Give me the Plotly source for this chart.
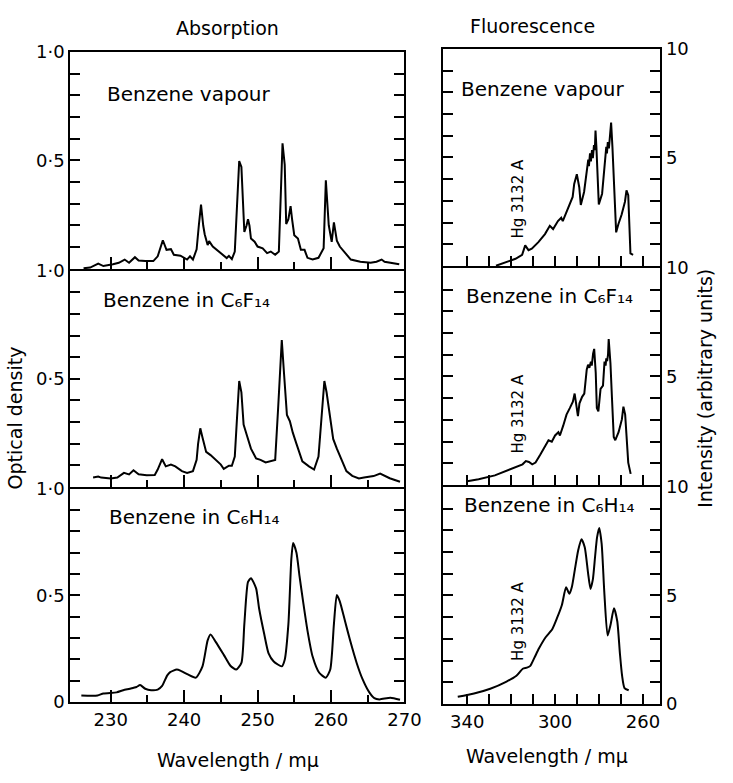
import plotly.graph_objects as go

W, H = 733, 783   # reference picture size, used to convert reference pixels to paper fractions

# ---------------- data ----------------
# Absorption, benzene vapour
abs_vap_wl = [226.3, 227.2, 228.3, 229.0, 230.3, 231.1, 231.9, 232.5, 233.3, 233.8,
              234.7, 235.8, 236.4, 237.1, 237.6, 238.2, 238.6, 239.5, 240.4, 240.8,
              241.2, 241.7, 242.0, 242.3, 242.6, 242.8, 243.2, 243.4, 243.9, 244.7,
              245.4, 245.8, 246.1, 246.5, 246.9, 247.2, 247.5, 247.8, 248.0, 248.2,
              248.5, 248.7, 248.9, 249.1, 249.6, 250.0, 250.7, 251.3, 251.8, 252.4,
              252.9, 253.2, 253.4, 253.7, 253.9, 254.2, 254.5, 254.7, 255.0, 255.5,
              255.9, 256.4, 256.8, 257.5, 258.3, 259.0, 259.3, 259.7, 260.1, 260.4,
              260.8, 261.2, 261.8, 262.7, 264.0, 265.4, 266.2, 266.9, 267.3, 268.4, 269.3]
abs_vap_od = [0.003, 0.006, 0.024, 0.013, 0.021, 0.028, 0.043, 0.028, 0.054, 0.039,
              0.036, 0.036, 0.058, 0.132, 0.088, 0.091, 0.065, 0.061, 0.043, 0.058,
              0.043, 0.090, 0.200, 0.296, 0.200, 0.160, 0.110, 0.128, 0.103, 0.080,
              0.063, 0.050, 0.060, 0.045, 0.080, 0.300, 0.497, 0.470, 0.300, 0.170,
              0.200, 0.229, 0.199, 0.140, 0.125, 0.103, 0.095, 0.073, 0.080, 0.065,
              0.080, 0.348, 0.579, 0.480, 0.207, 0.229, 0.289, 0.229, 0.155, 0.140,
              0.088, 0.088, 0.051, 0.043, 0.051, 0.095, 0.408, 0.200, 0.125, 0.214,
              0.130, 0.103, 0.080, 0.043, 0.033, 0.028, 0.033, 0.043, 0.033, 0.028, 0.021]

# Absorption, benzene in C6F14
abs_c6f14_wl = [227.6, 228.3, 228.7, 230.0, 230.9, 231.8, 232.5, 233.1, 233.8, 234.9,
                236.0, 236.4, 237.0, 237.5, 238.2, 238.8, 239.7, 240.4, 241.2, 241.7,
                241.9, 242.2, 242.5, 243.0, 243.6, 244.3, 245.0, 245.4, 246.1, 246.5,
                246.9, 247.2, 247.5, 247.8, 248.1, 248.5, 249.1, 249.8, 250.4, 251.1,
                251.8, 252.4, 252.8, 253.1, 253.3, 253.6, 254.0, 254.4, 254.8, 255.3,
                255.7, 256.1, 257.0, 257.7, 258.3, 258.8, 259.1, 259.4, 259.9, 260.3,
                260.8, 261.4, 262.1, 262.9, 263.8, 264.5, 265.8, 266.7, 268.0, 269.4]
abs_c6f14_od = [0.043, 0.048, 0.043, 0.039, 0.043, 0.065, 0.058, 0.077, 0.058, 0.054,
                0.055, 0.080, 0.128, 0.095, 0.103, 0.095, 0.073, 0.065, 0.073, 0.125,
                0.199, 0.271, 0.229, 0.162, 0.147, 0.125, 0.103, 0.083, 0.098, 0.098,
                0.140, 0.318, 0.490, 0.438, 0.289, 0.244, 0.177, 0.132, 0.125, 0.113,
                0.118, 0.125, 0.363, 0.586, 0.680, 0.527, 0.333, 0.304, 0.251, 0.199,
                0.155, 0.118, 0.095, 0.080, 0.140, 0.363, 0.490, 0.438, 0.318, 0.222,
                0.177, 0.125, 0.073, 0.051, 0.039, 0.043, 0.050, 0.062, 0.040, 0.024]

# Absorption, benzene in C6H14
abs_c6h14_wl = [226.0, 228.2, 229.0, 230.8, 231.7, 232.6, 233.5, 234.0, 234.7, 235.5,
                236.4, 237.0, 237.7, 238.1, 239.0, 239.6, 240.5, 241.6, 242.5, 243.2,
                243.6, 244.3, 245.4, 246.3, 247.1, 247.8, 248.2, 248.7, 249.1, 249.8,
                250.2, 250.9, 251.5, 252.2, 253.3, 253.7, 254.2, 254.6, 254.85, 255.3,
                255.7, 256.2, 256.8, 257.5, 258.4, 259.3, 259.9, 260.4, 260.8, 261.2,
                261.9, 262.6, 263.5, 264.3, 265.2, 265.9, 266.6, 268.1, 269.4]
abs_c6h14_od = [0.030, 0.030, 0.040, 0.045, 0.055, 0.062, 0.070, 0.079, 0.062, 0.055,
                0.058, 0.075, 0.125, 0.140, 0.152, 0.145, 0.129, 0.114, 0.167, 0.289,
                0.317, 0.282, 0.221, 0.170, 0.152, 0.183, 0.365, 0.563, 0.581, 0.533,
                0.441, 0.320, 0.228, 0.190, 0.167, 0.198, 0.365, 0.670, 0.746, 0.700,
                0.594, 0.472, 0.335, 0.213, 0.137, 0.114, 0.152, 0.365, 0.502, 0.472,
                0.381, 0.289, 0.183, 0.107, 0.046, 0.018, 0.012, 0.020, 0.010]

# Fluorescence, benzene vapour
fl_vap_wl = [326.9, 322.5, 318.0, 315.0, 313.6, 312.1, 310.6, 307.6, 304.6, 302.4,
             300.9, 298.7, 297.2, 296.5, 295.0, 293.5, 292.0, 291.3, 290.1, 289.0,
             288.3, 286.8, 285.3, 284.9, 284.6, 284.1, 283.7, 283.2, 282.8, 282.3,
             281.9, 281.6, 281.2, 280.6, 280.1, 278.6, 277.9, 277.1, 276.7, 276.4,
             276.0, 275.5, 274.9, 274.5, 273.9, 273.4, 273.0, 272.2, 271.2, 269.7,
             268.2, 267.5, 266.7, 266.3, 265.7, 264.5]
fl_vap_int = [0.01, 0.16, 0.33, 0.51, 0.95, 0.73, 0.80, 1.10, 1.47, 1.85,
              1.70, 2.07, 2.22, 2.07, 2.44, 2.81, 3.18, 3.78, 4.23, 3.63,
              2.81, 3.41, 4.45, 4.90, 4.60, 5.19, 4.82, 5.34, 4.97, 5.57,
              5.34, 6.24, 5.49, 3.41, 2.84, 3.33, 4.15, 5.04, 5.49, 5.19,
              5.71, 5.42, 6.09, 6.61, 5.49, 4.30, 2.96, 1.55, 1.92, 2.37,
              2.96, 3.48, 3.26, 1.92, 0.58, 0.51]

# Fluorescence, benzene in C6F14
fl_c6f14_wl = [340.0, 334.8, 327.4, 320.0, 314.8, 313.3, 311.9, 310.4, 308.9, 306.7,
               304.4, 303.0, 301.5, 300.0, 298.5, 297.8, 296.3, 294.8, 293.3, 291.9,
               291.1, 290.4, 289.6, 288.9, 287.7, 286.7, 285.6, 285.0, 284.4, 283.7,
               283.3, 282.7, 282.2, 281.5, 281.0, 280.3, 279.3, 278.2, 277.5, 277.0,
               276.7, 276.3, 275.9, 275.6, 274.8, 274.1, 273.3, 272.6, 271.1, 269.6,
               268.9, 268.1, 267.4, 266.7, 265.6]
fl_c6f14_int = [0.17, 0.26, 0.44, 0.73, 0.95, 1.10, 1.06, 0.95, 1.03, 1.40,
                1.84, 2.06, 1.99, 2.28, 2.43, 2.28, 2.73, 3.24, 3.54, 3.84,
                4.21, 3.76, 3.17, 3.76, 4.06, 4.21, 5.31, 5.54, 5.40, 5.68,
                5.50, 6.05, 6.27, 5.17, 3.54, 3.39, 4.43, 4.58, 5.68, 5.50,
                5.83, 5.70, 6.00, 6.72, 5.61, 3.98, 2.21, 2.06, 2.43, 3.02,
                3.61, 3.24, 2.06, 1.03, 0.51]

# Fluorescence, benzene in C6H14
fl_c6h14_wl = [344.3, 336.9, 329.5, 322.1, 317.6, 314.7, 312.9, 311.4, 309.5, 307.3,
               304.3, 301.3, 299.1, 296.9, 295.0, 293.5, 292.4, 291.0, 289.5, 288.0,
               286.5, 285.0, 283.9, 282.8, 281.8, 280.9, 279.9, 278.8, 277.6, 276.1,
               274.7, 273.2, 271.7, 270.5, 269.5, 268.4, 266.5]
fl_c6h14_int = [0.33, 0.48, 0.70, 1.03, 1.30, 1.62, 1.67, 1.74, 2.11, 2.56,
                3.07, 3.44, 3.96, 4.56, 5.37, 5.07, 5.37, 6.19, 7.07, 7.59,
                7.22, 6.04, 5.30, 5.74, 6.78, 7.67, 8.11, 7.37, 5.15, 3.15,
                3.67, 4.41, 3.81, 2.33, 1.30, 0.73, 0.63]

panel_labels = ["Benzene vapour", "Benzene vapour",
                "Benzene in C₆F₁₄", "Benzene in C₆F₁₄",
                "Benzene in C₆H₁₄", "Benzene in C₆H₁₄"]
abs_major_ticks = [230, 240, 250, 260, 270]
abs_minor_ticks = [235, 245, 255, 265]
fl_major_ticks = [340, 300, 260]
fl_minor_ticks = [330, 320, 310, 290, 280, 270]
hg_label = "Hg 3132 A"

# ---------------- figure ----------------
FONT = "DejaVu Sans"
fig = go.Figure()

series = [
    (abs_vap_wl, abs_vap_od, "linear"),
    (fl_vap_wl, fl_vap_int, "linear"),
    (abs_c6f14_wl, abs_c6f14_od, "linear"),
    (fl_c6f14_wl, fl_c6f14_int, "linear"),
    (abs_c6h14_wl, abs_c6h14_od, "spline"),
    (fl_c6h14_wl, fl_c6h14_int, "spline"),
]
for i, (xs, ys, shape) in enumerate(series, start=1):
    fig.add_trace(go.Scatter(
        x=xs, y=ys, mode="lines",
        line=dict(color="black", width=2, shape=shape, smoothing=0.6),
        xaxis="x" if i == 1 else f"x{i}", yaxis="y" if i == 1 else f"y{i}",
        showlegend=False, hoverinfo="skip"))


def px_x(x):
    return x / W


def px_y(y):
    return 1 - y / H


left_dom = [px_x(72), px_x(414)]
right_dom = [px_x(454), px_x(676)]
left_rows = [(42, 265), (267, 489), (491, 710)]
right_rows = [(39, 262), (264, 487), (489, 712)]

tickfont = dict(family=FONT, size=18, color="black")
layout = {}
for i in range(1, 7):
    col = (i - 1) % 2        # 0 left, 1 right
    row = (i - 1) // 2
    bottom = row == 2
    xname = "xaxis" if i == 1 else f"xaxis{i}"
    yname = "yaxis" if i == 1 else f"yaxis{i}"
    anchor_y = "y" if i == 1 else f"y{i}"
    anchor_x = "x" if i == 1 else f"x{i}"
    if col == 0:
        r = left_rows[row]
        xa = dict(domain=left_dom, range=[224.5, 270], tickmode="array",
                  tickvals=abs_major_ticks, ticktext=[str(v) for v in abs_major_ticks],
                  ticklen=12,
                  minor=dict(tickmode="array", tickvals=abs_minor_ticks, ticklen=7,
                             tickwidth=2, tickcolor="black", ticks="inside"))
        yv = [0.5, 1.0] if not bottom else [0, 0.5, 1.0]
        yt = ["0·5", "1·0"] if not bottom else ["0", "0·5", "1·0"]
        ya = dict(domain=[px_y(r[1]), px_y(r[0])], range=[0, 1.0], tickmode="array",
                  tickvals=yv, ticktext=yt, side="left",
                  minor=dict(tickmode="array",
                             tickvals=[0.1, 0.2, 0.3, 0.4, 0.6, 0.7, 0.8, 0.9],
                             ticklen=10, tickwidth=2, tickcolor="black", ticks="inside"))
    else:
        r = right_rows[row]
        xa = dict(domain=right_dom, range=[350.8, 252.1], tickmode="array",
                  tickvals=fl_major_ticks, ticktext=[str(v) for v in fl_major_ticks],
                  ticklen=10,
                  minor=dict(tickmode="array", tickvals=fl_minor_ticks, ticklen=10,
                             tickwidth=2, tickcolor="black", ticks="inside"))
        yv = [5, 10] if not bottom else [0, 5, 10]
        yt = ["5", "10"] if not bottom else ["0", "5", "10"]
        ya = dict(domain=[px_y(r[1]), px_y(r[0])], range=[0, 10], tickmode="array",
                  tickvals=yv, ticktext=yt, side="right",
                  minor=dict(tickmode="array", tickvals=[1, 2, 3, 4, 6, 7, 8, 9],
                             ticklen=10, tickwidth=2, tickcolor="black", ticks="inside"))
    xa.update(anchor=anchor_y, showline=True, linewidth=2, linecolor="black",
              mirror=True, ticks="inside", tickwidth=2, tickcolor="black",
              showticklabels=bottom, tickfont=tickfont, showgrid=False,
              zeroline=False, fixedrange=True)
    ya.update(anchor=anchor_x, showline=True, linewidth=2, linecolor="black",
              mirror="ticks", ticks="inside", ticklen=10, tickwidth=2,
              tickcolor="black", tickfont=tickfont, showgrid=False,
              zeroline=False, fixedrange=True)
    layout[xname] = xa
    layout[yname] = ya

annotations = []


def ann(text, x, y, size=20, angle=0, xanchor="center", yanchor="middle"):
    annotations.append(dict(text=text, x=px_x(x), y=px_y(y), xref="paper", yref="paper",
                            showarrow=False, textangle=angle, xanchor=xanchor,
                            yanchor=yanchor,
                            font=dict(family=FONT, size=size, color="black")))


ann("Absorption", 233, 17, size=19)
ann("Fluorescence", 545, 15, size=19)
label_pos = [(107, 85), (470, 80), (103, 297), (475, 293), (110, 520), (473, 508)]
for txt, (lx, ly) in zip(panel_labels, label_pos):
    ann(txt, lx, ly, size=20, xanchor="left")
for hy in (193, 414, 627):
    ann(hg_label, 530, hy, size=15, angle=-90)
ann("Optical density", 15, 418, size=19, angle=-90)
ann("Intensity (arbitrary units)", 721, 388, size=19, angle=-90)
ann("Wavelength / mμ", 244, 770, size=19)
ann("Wavelength / mμ", 560, 766, size=19)

# the figure fills the whole browser viewport; everything is placed in paper fractions
fig.update_layout(autosize=True, margin=dict(l=0, r=0, t=0, b=0),
                  paper_bgcolor="white", plot_bgcolor="white",
                  annotations=annotations, **layout)

pin_js = ("document.documentElement.style.margin='0';"
          "document.body.style.margin='0';document.body.style.overflow='hidden';"
          "var gd=document.getElementById('{plot_id}');"
          "gd.style.position='absolute';gd.style.left='0px';gd.style.top='0px';")

fig.write_html("out.html", post_script=pin_js,
               default_width="100vw", default_height="100vh",
               config={"displayModeBar": False, "responsive": True})
